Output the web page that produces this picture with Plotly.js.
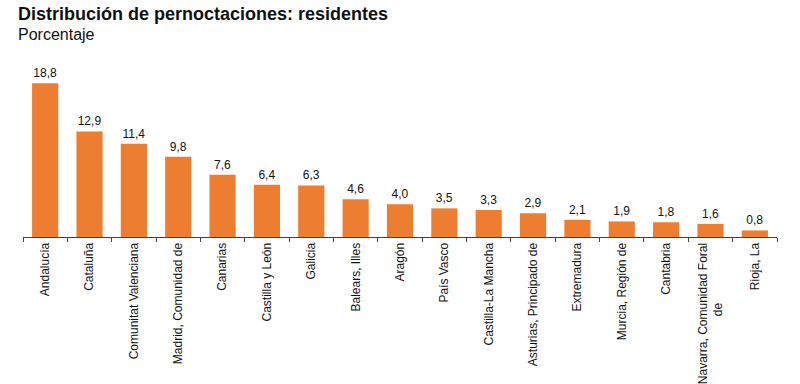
<!DOCTYPE html>
<html><head><meta charset="utf-8">
<script src="https://cdn.plot.ly/plotly-3.0.1.min.js"></script>
<style>body{margin:0;background:#fff}#c{width:800px;height:384px}</style>
</head><body><div id="c"></div>
<script>
const categories = ["Andalucía","Cataluña","Comunitat Valenciana","Madrid, Comunidad de","Canarias","Castilla y León","Galicia","Balears, Illes","Aragón","País Vasco","Castilla-La Mancha","Asturias, Principado de","Extremadura","Murcia, Región de","Cantabria","Navarra, Comunidad Foral de","Rioja, La"];
const values = [18.8,12.9,11.4,9.8,7.6,6.4,6.3,4.6,4.0,3.5,3.3,2.9,2.1,1.9,1.8,1.6,0.8];
const tickLabels = ["Andalucía","Cataluña","Comunitat Valenciana","Madrid, Comunidad de","Canarias","Castilla y León","Galicia","Balears, Illes","Aragón","País Vasco","Castilla-La Mancha","Asturias, Principado de","Extremadura","Murcia, Región de","Cantabria","Navarra, Comunidad Foral<br>de" + "\u00a0".repeat(18),"Rioja, La"];

const trace = {
  type: 'bar', x: categories, y: values,
  marker: {color: '#ED7D31'},
  texttemplate: '%{y:.1f}', textposition: 'outside', cliponaxis: false,
  textfont: {family: 'Liberation Sans, Arial, sans-serif', size: 12, color: '#111'},
  hoverinfo: 'none'
};
const layout = {
  width: 800, height: 384,
  margin: {l: 23, r: 23, t: 57, b: 147},
  separators: ',.',
  bargap: 0.41,
  showlegend: false,
  paper_bgcolor: '#fff', plot_bgcolor: '#fff',
  font: {family: 'Liberation Sans, Arial, sans-serif', color: '#111'},
  xaxis: {
    type: 'category', tickangle: -90, tickson: 'boundaries',
    tickvals: categories, ticktext: tickLabels,
    ticks: 'outside', ticklen: 4, tickcolor: '#404040', tickwidth: 1,
    showline: true, linecolor: '#404040', linewidth: 1,
    tickfont: {size: 12, color: '#111'}, showgrid: false
  },
  yaxis: {range: [0, 22], visible: false, showgrid: false, zeroline: false},
  annotations: [
    {text: '<b>Distribución de pernoctaciones: residentes</b>', xref: 'paper', yref: 'paper', x: 0, y: 1, xanchor: 'left', yanchor: 'top', showarrow: false,
     font: {size: 18, color: '#111'}, xshift: -6, yshift: 54, borderpad: 0},
    {text: 'Porcentaje', xref: 'paper', yref: 'paper', x: 0, y: 1, xanchor: 'left', yanchor: 'top', showarrow: false,
     font: {size: 16, color: '#111'}, xshift: -6, yshift: 32, borderpad: 0}
  ]
};
Plotly.newPlot('c', [trace], layout, {staticPlot: true});
</script></body></html>
